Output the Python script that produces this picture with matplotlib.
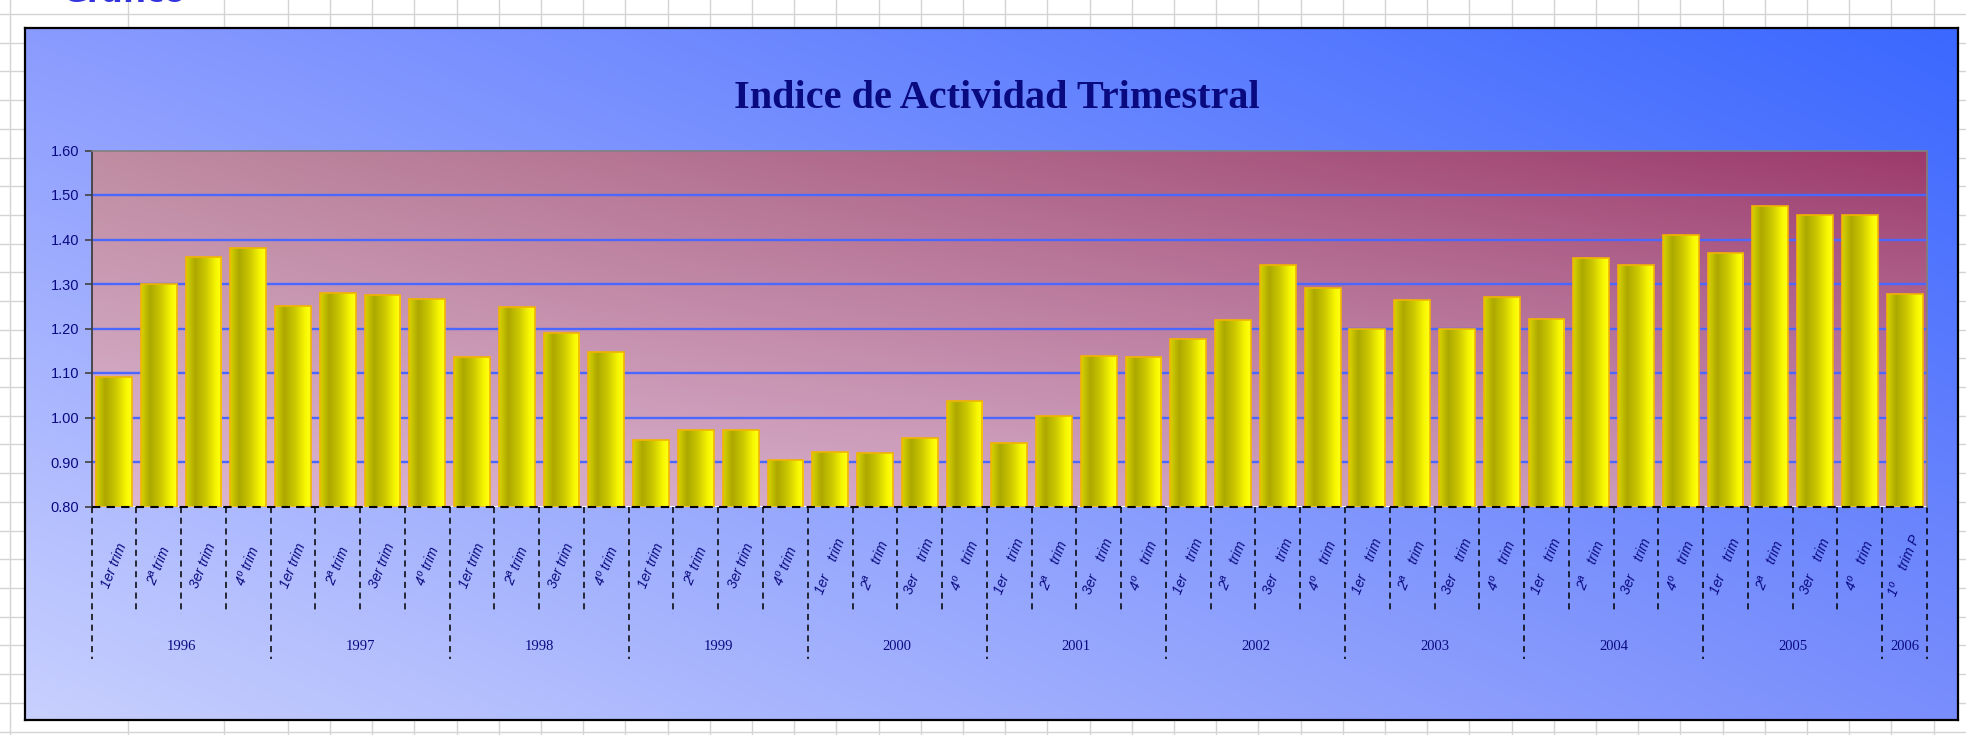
import numpy as np
import matplotlib.pyplot as plt
import matplotlib.transforms as mtransforms
from matplotlib.colors import LinearSegmentedColormap, to_rgb
from matplotlib.lines import Line2D


W, H = 1966, 735

TITLE = "Indice de Actividad Trimestral"
YEARS = ["1996", "1997", "1998", "1999", "2000", "2001",
         "2002", "2003", "2004", "2005", "2006"]
QUARTERS_PER_YEAR = [4, 4, 4, 4, 4, 4, 4, 4, 4, 4, 1]

LABELS_96_99 = ["1er trim", "2ª trim", "3er trim", "4º trim"]
LABELS_00_05 = ["1er    trim", "2ª    trim", "3er    trim", "4º    trim"]
LABEL_2006 = ["1º    trim P"]
QUARTER_LABELS = LABELS_96_99 * 4 + LABELS_00_05 * 6 + LABEL_2006

VALUES = [
    1.09, 1.30, 1.36, 1.38,      # 1996
    1.25, 1.28, 1.275, 1.267,    # 1997
    1.135, 1.249, 1.191, 1.147,  # 1998
    0.950, 0.972, 0.972, 0.905,  # 1999
    0.923, 0.920, 0.953, 1.037,  # 2000
    0.942, 1.003, 1.138, 1.135,  # 2001
    1.176, 1.218, 1.343, 1.290,  # 2002
    1.199, 1.263, 1.199, 1.271,  # 2003
    1.222, 1.359, 1.343, 1.411,  # 2004
    1.369, 1.475, 1.456, 1.456,  # 2005
    1.278,                       # 2006
]
Y_TICKS = [0.80, 0.90, 1.00, 1.10, 1.20, 1.30, 1.40, 1.50, 1.60]

NAVY = "#0a0a80"

# pixel positions of the chart pieces
CHART = (25, 28, 1958, 720)
PLOT = (91.5, 150.5, 1927, 506.5)


def fig_box(left, top, right, bottom):
    return [left / W, 1 - bottom / H, (right - left) / W, (bottom - top) / H]


def bilinear(tl, tr, bl, br, nx=200, ny=100):
    tl, tr, bl, br = [np.array(to_rgb(c)) for c in (tl, tr, bl, br)]
    xx, yy = np.meshgrid(np.linspace(0, 1, nx), np.linspace(0, 1, ny))
    xx = xx[..., None]
    yy = yy[..., None]
    top = tl * (1 - xx) + tr * xx
    bottom = bl * (1 - xx) + br * xx
    return top * (1 - yy) + bottom * yy


def bar_gradient():
    cmap = LinearSegmentedColormap.from_list("bar", [
        (0.0, "#d6d200"), (0.25, "#aca800"), (0.55, "#cbc700"),
        (0.85, "#f8f800"), (1.0, "#ffff18")])
    u = np.linspace(0, 1, 64)
    return cmap(np.tile(u, (4, 1)))


def draw_sheet(fig):
    # celdas de la hoja de Excel detras del grafico
    grey = "#d4d4d4"
    y = 14.0
    while y < H:
        fig.add_artist(Line2D([0, 1], [1 - y / H, 1 - y / H], color=grey,
                              lw=1, zorder=-5, transform=fig.transFigure))
        y += 28.7
    cols = [10, 128, 224, 288] + list(np.arange(330, W, 42.2))
    for x in cols:
        fig.add_artist(Line2D([x / W, x / W], [0, 1], color=grey,
                              lw=1, zorder=-5, transform=fig.transFigure))
    # titulo de la hoja, cortado por el borde superior como en la captura
    fig.text(63 / W, 1 - 2.5 / H, "Gráfico", fontsize=22, fontweight="bold",
             color="#3333dd", va="baseline", zorder=-4)


def draw_chart_area(fig):
    bg = fig.add_axes(fig_box(*CHART), zorder=-2)
    img = bilinear("#8a9bff", "#3b68ff", "#c8d0fe", "#7a8efc")
    bg.imshow(img, extent=[0, 1, 0, 1], aspect="auto", interpolation="bicubic")
    bg.set_xlim(0, 1)
    bg.set_ylim(0, 1)
    bg.set_xticks([])
    bg.set_yticks([])
    for sp in bg.spines.values():
        sp.set_color("black")
        sp.set_linewidth(1.6)


def draw_plot(fig):
    ax = fig.add_axes(fig_box(*PLOT), zorder=1)
    n = len(VALUES)
    x = np.arange(n)
    xlim = (-0.5, n - 0.5)
    ylim = (Y_TICKS[0], Y_TICKS[-1])

    img = bilinear("#bf8ca2", "#9c3a6c", "#dcb6d2", "#c898b6")
    ax.imshow(img, extent=[*xlim, *ylim], aspect="auto",
              interpolation="bicubic", zorder=0)

    for y in Y_TICKS[1:-1]:
        ax.axhline(y, color="#4a68ff", lw=1.7, zorder=1)

    heights = np.array(VALUES) - Y_TICKS[0]
    bars = ax.bar(x, heights, bottom=Y_TICKS[0], width=0.8,
                  facecolor="none", edgecolor="#f2b400", lw=1.2, zorder=3)
    grad = bar_gradient()
    for bar in bars:
        x0, y0 = bar.get_x(), bar.get_y()
        im = ax.imshow(grad, extent=[x0, x0 + bar.get_width(), y0, y0 + bar.get_height()],
                       aspect="auto", interpolation="bilinear", zorder=2.5)
        im.set_clip_path(bar)

    ax.set_xlim(*xlim)
    ax.set_ylim(*ylim)

    ax.spines["left"].set_color("#404040")
    ax.spines["left"].set_linewidth(1.3)
    for side in ("top", "right"):
        ax.spines[side].set_color("#808080")
        ax.spines[side].set_linewidth(1.2)
    ax.spines["bottom"].set_visible(False)
    ax.axhline(Y_TICKS[0], color="black", ls=(0, (4, 3)), lw=1.5,
               zorder=5, clip_on=False)

    ax.set_yticks(Y_TICKS)
    ax.set_yticklabels([f"{v:.2f}" for v in Y_TICKS],
                       fontfamily="Liberation Sans", fontsize=10.5)
    ax.tick_params(axis="y", direction="out", length=5, width=1.2,
                   color="#404040", labelcolor=NAVY, pad=4)
    ax.set_xticks([])

    # eje de categorias en dos niveles
    trans = mtransforms.blended_transform_factory(ax.transData, ax.transAxes)
    plot_h = PLOT[3] - PLOT[1]

    def below(px):
        return -(px - PLOT[3]) / plot_h

    year_edges = np.concatenate([[0], np.cumsum(QUARTERS_PER_YEAR)]) - 0.5
    for b in np.arange(n + 1) - 0.5:
        depth = 659 if b in year_edges else 614
        ax.plot([b, b], [0, below(depth)], transform=trans, clip_on=False,
                color="black", ls=(0, (4, 3)), lw=1.1)

    for i, lab in enumerate(QUARTER_LABELS):
        ax.text(i, below(566), lab, transform=trans, rotation=68,
                ha="center", va="center", fontsize=10, style="italic",
                fontfamily="Liberation Sans", color=NAVY)

    for year, a, b in zip(YEARS, year_edges[:-1], year_edges[1:]):
        ax.text((a + b) / 2, below(647), year, transform=trans,
                ha="center", va="center", fontsize=10.5,
                fontfamily="Liberation Serif", color=NAVY)


def main():
    fig = plt.figure(figsize=(W / 100, H / 100), dpi=100)
    fig.patch.set_facecolor("white")

    draw_sheet(fig)
    draw_chart_area(fig)
    draw_plot(fig)

    fig.text(997 / W, 1 - 98 / H, TITLE, ha="center", va="center",
             fontsize=29, fontweight="bold", fontfamily="Liberation Serif",
             color=NAVY, zorder=5)

    fig.savefig("out.png", dpi=100)
    plt.close(fig)


if __name__ == "__main__":
    main()
